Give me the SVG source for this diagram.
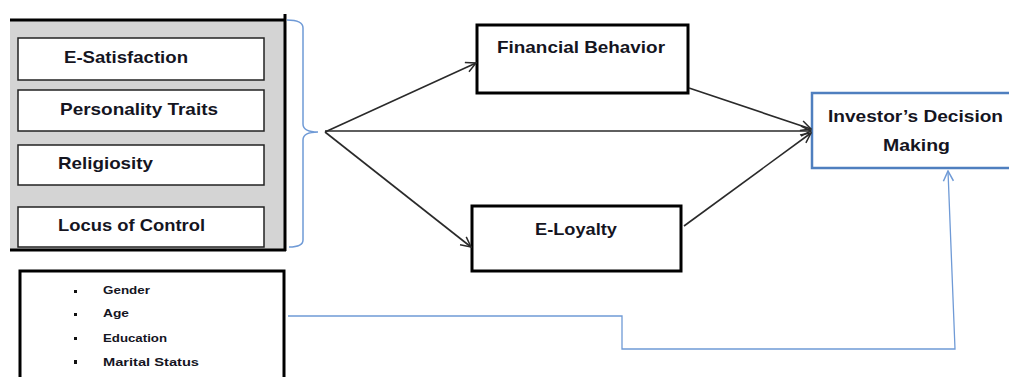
<svg xmlns="http://www.w3.org/2000/svg" width="1009" height="377" viewBox="0 0 1009 377">
<style>
.t{font-family:"Liberation Sans",Arial,sans-serif;font-weight:bold;font-size:17px;fill:#15151f}
.s{font-family:"Liberation Sans",Arial,sans-serif;font-weight:bold;font-size:11px;fill:#15151f}
.box{fill:#fff;stroke:#000;stroke-width:3}
.inner{fill:#fff;stroke:#222;stroke-width:1.5}
.arr{fill:none;stroke:#2a2a2a;stroke-width:1.6;marker-end:url(#ah)}
.blue{fill:none;stroke:#6f9ad6;stroke-width:1.5}
</style>
<defs>
<marker id="ah" viewBox="0 0 12 12" refX="11" refY="6" markerWidth="12" markerHeight="12" markerUnits="userSpaceOnUse" orient="auto">
<path d="M1,1 L11,6 L1,11" fill="none" stroke="#2a2a2a" stroke-width="1.5"/>
</marker>
<marker id="bh" viewBox="0 0 12 12" refX="11" refY="6" markerWidth="12" markerHeight="12" markerUnits="userSpaceOnUse" orient="auto">
<path d="M1,1 L11,6 L1,11" fill="none" stroke="#6f9ad6" stroke-width="1.5"/>
</marker>
</defs>
<rect width="1009" height="377" fill="#fff"/>

<g id="independent-group">
<rect x="10" y="20" width="275" height="230" fill="#d4d4d4"/>
<line x1="10" y1="20" x2="286" y2="20" stroke="#000" stroke-width="3"/>
<line x1="285" y1="14" x2="285" y2="251" stroke="#000" stroke-width="3"/>
<line x1="10" y1="250" x2="286" y2="250" stroke="#000" stroke-width="3"/>
</g>
<g id="e-satisfaction">
<rect class="inner" x="18" y="38" width="246" height="42"/>
<text class="t" x="64" y="63" textLength="124" lengthAdjust="spacingAndGlyphs">E-Satisfaction</text>
</g>
<g id="personality-traits">
<rect class="inner" x="18" y="90" width="246" height="41"/>
<text class="t" x="60" y="115" textLength="158" lengthAdjust="spacingAndGlyphs">Personality Traits</text>
</g>
<g id="religiosity">
<rect class="inner" x="18" y="145" width="246" height="40"/>
<text class="t" x="58" y="169" textLength="95" lengthAdjust="spacingAndGlyphs">Religiosity</text>
</g>
<g id="locus-of-control">
<rect class="inner" x="18" y="207" width="246" height="40"/>
<text class="t" x="58" y="231" textLength="147" lengthAdjust="spacingAndGlyphs">Locus of Control</text>
</g>

<g id="brace">
<path class="blue" d="M287,20 Q303,20 303,28 L303,124 Q303,132 318,132 Q303,132 303,140 L303,240 Q303,247 289,247"/>
</g>

<g id="demographics">
<rect class="box" x="20" y="271" width="264" height="120"/>
<rect x="74" y="290" width="3" height="3" fill="#111"/>
<text class="s" x="103" y="294" textLength="47" lengthAdjust="spacingAndGlyphs">Gender</text>
<rect x="74" y="313" width="3" height="3" fill="#111"/>
<text class="s" x="103" y="317" textLength="26" lengthAdjust="spacingAndGlyphs">Age</text>
<rect x="74" y="337" width="3" height="3" fill="#111"/>
<text class="s" x="103" y="342" textLength="64" lengthAdjust="spacingAndGlyphs">Education</text>
<rect x="74" y="360" width="3" height="4" fill="#111"/>
<text class="s" x="103" y="366" textLength="96" lengthAdjust="spacingAndGlyphs">Marital Status</text>
</g>

<g id="financial-behavior">
<rect class="box" x="477" y="25" width="211" height="68"/>
<text class="t" x="497" y="53" textLength="168" lengthAdjust="spacingAndGlyphs">Financial Behavior</text>
</g>
<g id="e-loyalty">
<rect class="box" x="472" y="206" width="209" height="65"/>
<text class="t" x="535" y="235" textLength="82" lengthAdjust="spacingAndGlyphs">E-Loyalty</text>
</g>
<g id="investors-decision-making">
<rect x="812" y="93" width="200" height="75" fill="#fff" stroke="#4f7fbf" stroke-width="2.5"/>
<text class="t" x="828" y="122" textLength="175" lengthAdjust="spacingAndGlyphs">Investor’s Decision</text>
<text class="t" x="883" y="151" textLength="67" lengthAdjust="spacingAndGlyphs">Making</text>
</g>

<g id="connectors">
<path class="arr" d="M325,132 L476,63"/>
<path class="arr" d="M325,132 L471,247"/>
<path class="arr" d="M325,131 L811,131"/>
<path class="arr" d="M689,88 L811,129"/>
<path class="arr" d="M684,226 L811,133"/>
<path d="M288,316 L622,316 L622,349 L955,349 L948,171" fill="none" stroke="#6f9ad6" stroke-width="1.3" marker-end="url(#bh)"/>
</g>
</svg>
